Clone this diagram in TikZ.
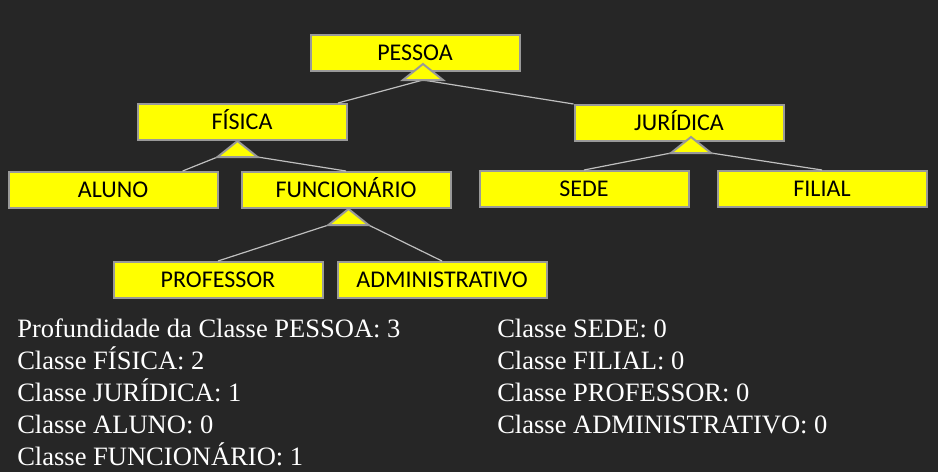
\documentclass[tikz,border=0pt]{standalone}
\usepackage{fontspec}
\setmainfont{Liberation Serif}
\newfontfamily\caixafont{Carlito}
\usetikzlibrary{calc}
\definecolor{SlideBack}{HTML}{262626}
\definecolor{CaixaFill}{HTML}{FFFF00}
\definecolor{CaixaBorder}{HTML}{999999}
\definecolor{LinkGray}{HTML}{BFBFBF}
\tikzset{classe/.style={draw=CaixaBorder,fill=CaixaFill,line width=1.5pt,
 minimum width=156.75pt,minimum height=27pt,inner sep=0pt,text=black,
 text height=11pt,text depth=0.5pt,font=\caixafont\fontsize{18}{21}\selectfont},
 heranca/.style={draw=CaixaBorder,fill=CaixaFill,line width=1.5pt,line join=miter},
 link/.style={draw=LinkGray,line width=0.9pt},info/.style={anchor=base west,
 inner sep=0pt,text=white,font=\fontsize{19.9}{23}\selectfont}}
\newcommand{\seta}[1]{\draw[heranca] (#1) -- ++(-20,16) -- ++(40,0) -- cycle;}

\begin{document}
\begin{tikzpicture}[x=0.75pt,y=-0.75pt]
\fill[SlideBack] (0,0) rectangle (938,472);
\useasboundingbox (0,0) rectangle (938,472);
% classes
\node[classe] (pessoa) at (415,53) {PESSOA};
\node[classe] (fisica) at (242,122) {FÍSICA};\node[classe] (juridica) at (679,123) {JURÍDICA};
\node[classe] (aluno) at (113,190) {ALUNO};\node[classe] (funcionario) at (346,190) {FUNCIONÁRIO};
\node[classe] (sede) at (584,189) {SEDE};\node[classe] (filial) at (822,189) {FILIAL};
\node[classe] (professor) at (218,280) {PROFESSOR};\node[classe] (adm) at (442,280) {ADMINISTRATIVO};
% pontas das setas de heranca
\coordinate (tPes) at (423,64);\coordinate (tFis) at (237.5,141);
\coordinate (tJur) at (691,137);\coordinate (tFun) at (348.5,209);
\draw[link] ($(tPes)+(0,16)$) -- ($(fisica.north)!.91!(fisica.north east)$);
\draw[link] ($(tPes)+(0,16)$) -- (juridica.north west);
\draw[link] ($(tFis)+(-20,16)$) -- ($(aluno.north)!.66!(aluno.north east)$);
\draw[link] ($(tFis)+(20,16)$) -- (funcionario.north);
\draw[link] ($(tJur)+(-20,16)$) -- (sede.north);
\draw[link] ($(tJur)+(20,16)$) -- (filial.north);
\draw[link] ($(tFun)+(-20,16)$) -- (professor.north);
\draw[link] ($(tFun)+(20,16)$) -- (adm.north);
\seta{tPes}\seta{tFis}\seta{tJur}\seta{tFun}
% profundidade
\foreach \t [count=\i from 0] in {Profundidade da Classe PESSOA: 3,Classe FÍSICA: 2,
 Classe JURÍDICA: 1,Classe ALUNO: 0,Classe FUNCIONÁRIO: 1}
 \node[info] (esq\i) at (17,337+32*\i) {\t};
\foreach \t [count=\i from 0] in {Classe SEDE: 0,Classe FILIAL: 0,
 Classe PROFESSOR: 0,Classe ADMINISTRATIVO: 0}
 \node[info] (dir\i) at (497,337+32*\i) {\t};
\end{tikzpicture}
\end{document}
